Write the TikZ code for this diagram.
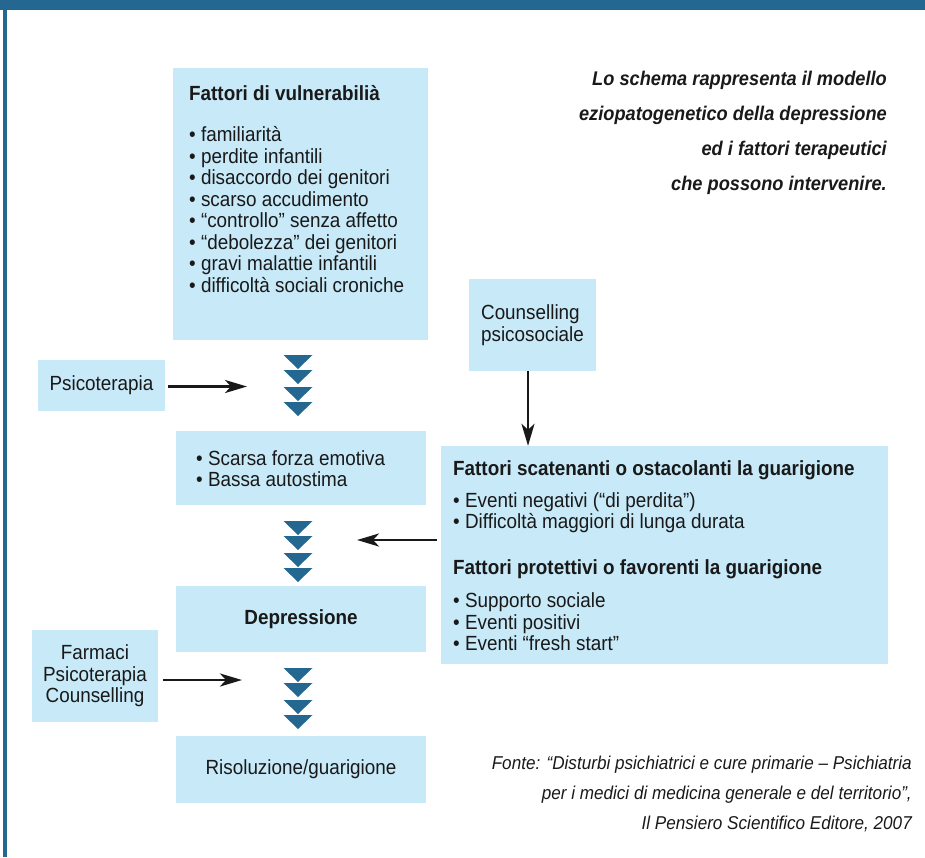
\documentclass[tikz,border=0pt]{standalone}
\usepackage{fontspec}
\setmainfont{Liberation Sans}[FakeStretch=0.92]
\usepackage{tikz}
\usetikzlibrary{positioning,arrows.meta}
\definecolor{dkblue}{RGB}{36,104,145}
\definecolor{ltblue}{RGB}{199,233,248}
\newcommand{\bodyfont}{\fontsize{20.5}{21.5}\selectfont}

\begin{document}
\begin{tikzpicture}[x=1pt, y=-1pt, box/.style={fill=ltblue,inner sep=0pt,text=black!90,font=\bodyfont},txt/.style={inner sep=0pt,align=left,font=\bodyfont,text=black!90},arr/.style={->,line width=2.7pt,black!90},>={Stealth[length=22pt,width=13pt,inset=6pt]}]
              \useasboundingbox (0,0) rectangle (925,857);
              \fill[dkblue] (0,0) rectangle (925,10);
              \fill[dkblue] (3,10) rectangle (7,857);

              \node[box,minimum width=255pt,minimum height=272pt] (vuln) at (300.5,204) {};
              \node[txt,anchor=north west] (vulntxt) at (189,85) {\textbf{Fattori di vulnerabilià}\\[20pt]
                \textbullet{} familiarità\\ \textbullet{} perdite infantili\\ \textbullet{} disaccordo dei genitori\\
                \textbullet{} scarso accudimento\\ \textbullet{} “controllo” senza affetto\\ \textbullet{} “debolezza” dei genitori\\
                \textbullet{} gravi malattie infantili\\ \textbullet{} difficoltà sociali croniche};

              \node[box,minimum width=127pt,minimum height=51pt] (psico) at (101.5,385.5) {Psicoterapia};
              \node[box,minimum width=127pt,minimum height=92pt,align=left] (couns) at (532.5,325) {Counselling\\psicosociale};
              \node[box,minimum width=126pt,minimum height=92pt,align=center] (farm) at (95,676) {Farmaci\\Psicoterapia\\Counselling};

              \node[box,minimum width=250pt,minimum height=74pt] (scarsa) at (301,468) {};
              \node[txt,anchor=north west] (scarsatxt) at (196,450) {\textbullet{} Scarsa forza emotiva\\ \textbullet{} Bassa autostima};
              \node[box,minimum width=250pt,minimum height=66pt,font=\bodyfont\bfseries] (depr) at (301,619) {Depressione};
              \node[box,minimum width=250pt,minimum height=67pt] (ris) at (301,769.5) {Risoluzione/guarigione};

              \node[box,minimum width=447pt,minimum height=218pt] (fatt) at (664.5,555) {};
              \node[txt,anchor=north west] (fatttxt) at (453,460) {\textbf{Fattori scatenanti o ostacolanti la guarigione}\\[10.5pt]
                \textbullet{} Eventi negativi (“di perdita”)\\ \textbullet{} Difficoltà maggiori di lunga durata\\[24.5pt]
                \textbf{Fattori protettivi o favorenti la guarigione}\\[11.5pt]
                \textbullet{} Supporto sociale\\ \textbullet{} Eventi positivi\\ \textbullet{} Eventi “fresh start”};

              \coordinate (chA) at (298,385.5);
              \coordinate (chB) at (298,551.5);
              \coordinate (chC) at (298,698.5);
              \foreach \ch in {chA,chB,chC}
                \foreach \dy in {-30.5,-15.5,1.5,16.5}
                  \fill[dkblue] ([shift={(-14.5,\dy)}]\ch) -- ([shift={(14.5,\dy)}]\ch) -- ([shift={(0,\dy+14)}]\ch) -- cycle;

              \coordinate (inA) at (247,386.5);
              \coordinate (inB) at (357,540);
              \coordinate (inC) at (242,680);
              \coordinate (cs) at ([xshift=-4.5pt]couns.south);
              \draw[arr,shorten <=3pt] (psico.east |- inA) -- (inA);
              \draw[arr,shorten <=4pt] (fatt.west |- inB) -- (inB);
              \draw[arr,shorten <=5pt] (farm.east |- inC) -- (inC);
              \draw[arr] (cs) -- (cs |- fatt.north);

              \node[anchor=north east,inner sep=0pt,align=right,text=black!90,font=\fontsize{19.8}{35}\selectfont\bfseries\itshape] (intro) at (887,71) {Lo schema rappresenta il modello\\eziopatogenetico della depressione\\ed i fattori terapeutici\\che possono intervenire.};
              \node[anchor=north east,inner sep=0pt,align=right,text=black!90,font=\fontsize{18.6}{30}\selectfont\itshape] (fonte) at (912,756) {Fonte: “Disturbi psichiatrici e cure primarie – Psichiatria\\per i medici di medicina generale e del territorio”,\\Il Pensiero Scientifico Editore, 2007};
            \end{tikzpicture}
\end{document}
